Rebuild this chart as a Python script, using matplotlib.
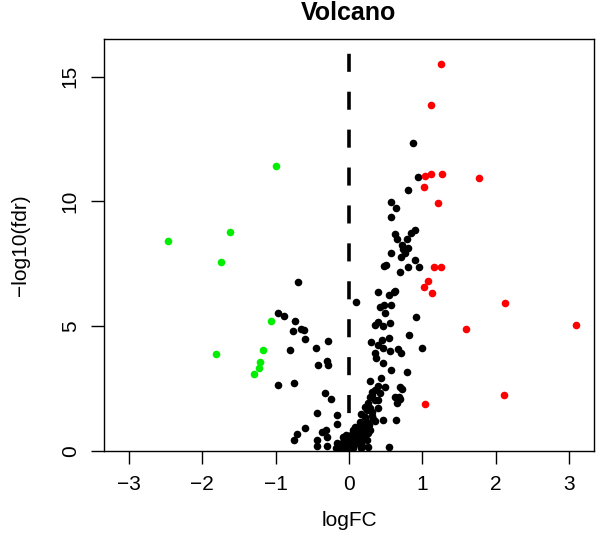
import matplotlib
matplotlib.use("Agg")
import matplotlib.pyplot as plt

plt.rcParams['font.family'] = ['Liberation Sans', 'DejaVu Sans']

# not significant genes (black)
ns_fc = [-0.97, -0.89, -0.73, -0.77, -0.65, -0.62, -0.60, -0.28, -0.80, -0.45,
         -0.42, -0.30, -0.28, 0.10, -0.97, -0.75, -0.33, -0.25, -0.43, -0.17,
         -0.16, -0.60, -0.71, -0.75, -0.37, -0.31, -0.30, -0.43, -0.44, -0.30,
         -0.17, -0.08, -0.70,
         0.29, 0.39, 0.49, 0.70, 0.32, 0.42, 0.29, 0.68, 0.65, 0.35,
         0.26, 0.24, 0.31, 0.22, 0.47, 0.64, 0.15, 0.13, 0.22, 0.06,
         -0.04, 0.01, 0.08, 0.15, 0.26, -0.08, -0.12, 0.00, 0.08, 0.17,
         0.24, 0.06, 0.17, 0.26, -0.18, 0.55, 0.10, -0.03,
         0.39, 0.55, 0.61, 0.42, 0.48, 0.57, 0.49, 0.92, 0.40, 0.35,
         0.46, 0.56, 0.82, 0.30, 0.45, 0.54, 0.40, 0.47, 0.56, 0.67,
         0.71, 1.00, 0.35, 0.37, 0.46, 0.57, 0.79, 0.44, 0.36, 0.72,
         0.63, 0.69, 0.22, 0.29, 0.40, 0.17, 0.32, 0.35, 0.24, 0.08,
         0.17, 0.28, 0.32, 0.39,
         0.87, 0.94, 0.80, 0.57, 0.64, 0.57, 0.90, 0.85, 0.63, 0.65,
         0.79, 0.72, 0.74, 0.81, 0.76, 0.57, 0.71, 0.90, 0.48, 0.50,
         0.80, 0.95, 0.69, 0.63,
         0.03, 0.12, 0.20, -0.05, 0.05, 0.19, 0.11, -0.01, 0.27, 0.21,
         0.14, 0.04, -0.10, 0.33, 0.18]
ns_fdr = [5.53, 5.42, 5.20, 4.82, 4.90, 4.85, 4.50, 4.41, 4.05, 4.13,
          3.43, 3.60, 3.43, 5.98, 2.66, 2.73, 2.31, 2.08, 1.52, 1.44,
          1.09, 0.91, 0.68, 0.45, 0.77, 0.85, 0.57, 0.44, 0.21, 0.21,
          0.31, 0.57, 6.79,
          2.82, 2.61, 2.58, 2.55, 2.38, 2.31, 2.18, 2.15, 1.91, 2.04,
          1.91, 1.64, 1.58, 1.37, 1.24, 1.24, 1.17, 0.97, 0.91, 0.84,
          0.64, 0.57, 0.64, 0.71, 0.71, 0.37, 0.17, 0.24, 0.31, 0.37,
          0.44, 0.11, 0.11, 0.17, 0.11, 0.15, 0.44, 0.44,
          6.39, 6.25, 6.39, 5.78, 5.85, 5.85, 5.54, 5.38, 5.18, 5.05,
          5.02, 5.14, 4.65, 4.36, 4.45, 4.52, 4.25, 4.12, 4.02, 4.08,
          3.92, 4.12, 3.92, 3.72, 3.52, 3.25, 3.15, 2.91, 2.44, 2.47,
          2.18, 2.08, 1.78, 1.71, 1.71, 1.48, 1.40, 1.22, 1.18, 0.97,
          0.97, 0.84, 2.24, 2.04,
          12.34, 10.99, 10.46, 9.99, 9.73, 9.37, 8.86, 8.75, 8.70, 8.48,
          8.50, 8.26, 8.08, 8.12, 7.92, 7.95, 7.76, 7.65, 7.41, 7.45,
          7.36, 7.36, 7.17, 6.42,
          0.20, 0.55, 0.52, 0.12, 0.45, 0.80, 0.75, 0.30, 1.05, 1.10,
          0.28, 0.70, 0.25, 1.30, 0.22]

# up regulated (red)
up_fc = [1.26, 1.12, 1.03, 1.12, 1.27, 1.02, 1.77, 1.22, 1.16, 1.26,
         1.02, 1.08, 1.13, 2.12, 1.59, 3.09, 2.11, 1.04]
up_fdr = [15.51, 13.88, 11.02, 11.10, 11.10, 10.59, 10.93, 9.94, 7.39, 7.39,
          6.59, 6.81, 6.32, 5.93, 4.89, 5.05, 2.23, 1.87]

# down regulated (green)
down_fc = [-1.00, -2.47, -1.62, -1.74, -1.06, -1.17, -1.21, -1.22, -1.30, -1.81]
down_fdr = [11.42, 8.40, 8.77, 7.57, 5.21, 4.04, 3.55, 3.34, 3.10, 3.89]

fig = plt.figure(figsize=(6.0, 5.33), dpi=100)
ax = fig.add_axes([0.1733, 0.1538, 0.8167, 0.773])

ax.scatter(ns_fc, ns_fdr, s=30, c='black', linewidths=0)
ax.scatter(up_fc, up_fdr, s=30, c='red', linewidths=0)
ax.scatter(down_fc, down_fdr, s=30, c='#00ee00', linewidths=0)
ax.axvline(0, color='black', lw=2.6, linestyle=(0, (5, 5.5)))

ax.set_xlim(-3.34, 3.34)
ax.set_ylim(0, 16.51)
ax.set_xticks([-3, -2, -1, 0, 1, 2, 3])
ax.set_yticks([0, 5, 10, 15])
ax.set_xticklabels(['\u22123', '\u22122', '\u22121', '0', '1', '2', '3'])
ax.tick_params(axis='both', direction='out', length=9.5, width=1, labelsize=15, pad=8)
for lab in ax.get_yticklabels():
    lab.set_rotation(90)
    lab.set_va('center')
for sp in ax.spines.values():
    sp.set_linewidth(1)

ax.set_xlabel('logFC', fontsize=15, labelpad=12)
ax.set_ylabel('\u2212log10(fdr)', fontsize=15, labelpad=22)
ax.set_title('Volcano', fontsize=18, fontweight='bold', pad=14)

fig.savefig('out.png', dpi=100)
